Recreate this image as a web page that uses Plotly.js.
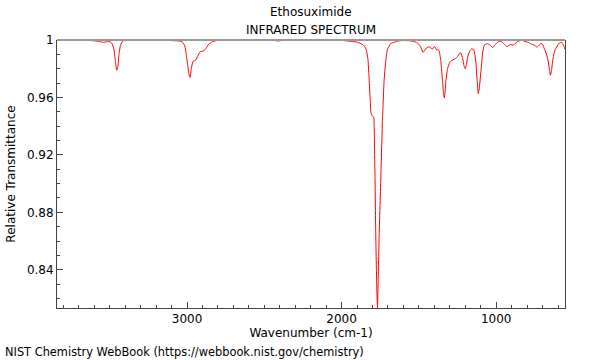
<!DOCTYPE html>
<html>
<head>
<meta charset="utf-8">
<script src="https://cdn.plot.ly/plotly-3.0.1.min.js"></script>
<style>html,body{margin:0;padding:0;background:#fff;}#chart{width:600px;height:360px;}</style>
</head>
<body>
<div id="chart"></div>
<script>
const wavenumber = [3841,3700,3620,3580,3555,3537,3515,3500,3485,3472,3463,3455,3448,3440,3430,3415,3390,3200,3100,3050,3030,3015,3005,2995,2985,2980,2972,2962,2952,2944,2930,2916,2900,2890,2875,2860,2836,2800,2600,2440,2410,2390,2200,2000,1970,1930,1900,1870,1850,1840,1830,1823,1816,1811,1805,1798,1792,1789,1784,1779,1773,1768,1763,1757,1746,1736,1725,1714,1704,1697,1682,1671,1649,1628,1600,1563,1535,1520,1500,1488,1473,1462,1450,1434,1420,1412,1401,1392,1386,1378,1368,1358,1347,1340,1336,1330,1326,1315,1300,1283,1265,1250,1238,1228,1217,1208,1200,1192,1185,1170,1160,1146,1138,1131,1122,1116,1110,1098,1088,1078,1065,1056,1040,1023,1010,1000,981,968,959,946,931,920,909,898,888,875,862,845,830,817,797,786,770,754,737,725,710,700,689,678,667,658,649,642,634,625,617,602,592,576,567,560,555];
const transmittance = [0.9998,0.9998,0.9996,0.9992,0.9986,0.9984,0.9988,0.9989,0.9975,0.993,0.985,0.979,0.981,0.990,0.9965,0.9993,0.9998,0.9998,0.9996,0.9993,0.9985,0.996,0.990,0.982,0.975,0.974,0.980,0.985,0.9855,0.986,0.989,0.9918,0.9922,0.9925,0.9945,0.997,0.9988,0.9998,0.9998,0.9997,0.9993,0.9996,0.9998,0.9997,0.9994,0.999,0.9985,0.9972,0.9955,0.993,0.987,0.975,0.960,0.950,0.9478,0.9468,0.9462,0.938,0.905,0.864,0.83,0.8134,0.835,0.864,0.9056,0.943,0.972,0.986,0.9935,0.995,0.9975,0.998,0.9988,0.9994,0.9996,0.9995,0.999,0.9985,0.997,0.995,0.9914,0.993,0.9945,0.9953,0.9942,0.9937,0.9955,0.9945,0.993,0.9935,0.992,0.985,0.971,0.962,0.9597,0.965,0.971,0.980,0.9845,0.986,0.987,0.9885,0.9905,0.991,0.987,0.982,0.980,0.983,0.988,0.9925,0.9937,0.9935,0.990,0.984,0.970,0.9627,0.966,0.979,0.991,0.9962,0.9972,0.9974,0.9965,0.9948,0.9965,0.9975,0.9992,0.999,0.9982,0.997,0.9953,0.996,0.9968,0.9967,0.9965,0.9978,0.9988,0.9996,0.9998,0.999,0.9985,0.998,0.997,0.9965,0.995,0.9962,0.9977,0.997,0.994,0.991,0.987,0.981,0.9755,0.979,0.986,0.991,0.9935,0.9965,0.9978,0.9984,0.997,0.995,0.9935];
const xRange = [3841, 555];
const yRange = [0.8134, 1.0];
const yTickVals = [0.84, 0.88, 0.92, 0.96, 1];
const yTickText = ['0.84', '0.88', '0.92', '0.96', '1'];
const xTickVals = [3000, 2000, 1000];
const xTickText = ['3000', '2000', '1000'];

const font = {family: 'DejaVu Sans, sans-serif', size: 12, color: '#000'};
const footFont = {family: 'DejaVu Sans, sans-serif', size: 11.4, color: '#000'};
const trace = {
  x: wavenumber, y: transmittance, type: 'scatter', mode: 'lines',
  line: {color: '#ff0000', width: 1, shape: 'spline', smoothing: 0.4},
  hoverinfo: 'skip'
};
const layout = {
  width: 600, height: 360,
  margin: {l: 57, r: 35, t: 40, b: 52, pad: 0},
  paper_bgcolor: '#fff', plot_bgcolor: '#fff',
  font: font,
  showlegend: false,
  xaxis: {
    range: xRange, autorange: false, showgrid: false, zeroline: false,
    showline: true, linecolor: '#444', linewidth: 1, mirror: false,
    ticks: 'inside', ticklen: 6, tickcolor: '#444', tickwidth: 1,
    tickvals: xTickVals, ticktext: xTickText, tickfont: font,
    minor: {dtick: 100, tick0: 0, ticks: 'inside', ticklen: 3, tickcolor: '#444', showgrid: false},
    title: {text: 'Wavenumber (cm-1)', font: font, standoff: 2}
  },
  yaxis: {
    range: yRange, autorange: false, showgrid: false, zeroline: false,
    showline: true, linecolor: '#444', linewidth: 1, mirror: true,
    ticks: 'inside', ticklen: 6, tickcolor: '#444', tickwidth: 1,
    tickvals: yTickVals, ticktext: yTickText, tickfont: font,
    minor: {dtick: 0.01, tick0: 0.8, ticks: 'inside', ticklen: 3, tickcolor: '#444', showgrid: false},
    title: {text: 'Relative Transmittance', font: font, standoff: 8}
  },
  shapes: [{type: 'line', xref: 'paper', yref: 'paper', x0: 0, x1: 1, y0: 1, y1: 1,
            line: {color: '#999', width: 2}, layer: 'above'}],
  annotations: [
    {text: 'Ethosuximide', xref: 'paper', yref: 'paper', x: 0.5, y: 1, yshift: 28,
     xanchor: 'center', yanchor: 'middle', showarrow: false, font: font},
    {text: 'INFRARED SPECTRUM', xref: 'paper', yref: 'paper', x: 0.5, y: 1, yshift: 10,
     xanchor: 'center', yanchor: 'middle', showarrow: false, font: font},
    {text: 'NIST Chemistry WebBook (https://webbook.nist.gov/chemistry)', xref: 'paper', yref: 'paper',
     x: 0, xshift: -54, y: 0, yshift: -44, xanchor: 'left', yanchor: 'middle', showarrow: false, font: footFont}
  ]
};
Plotly.newPlot('chart', [trace], layout, {displayModeBar: false, staticPlot: true});
</script>
</body>
</html>
